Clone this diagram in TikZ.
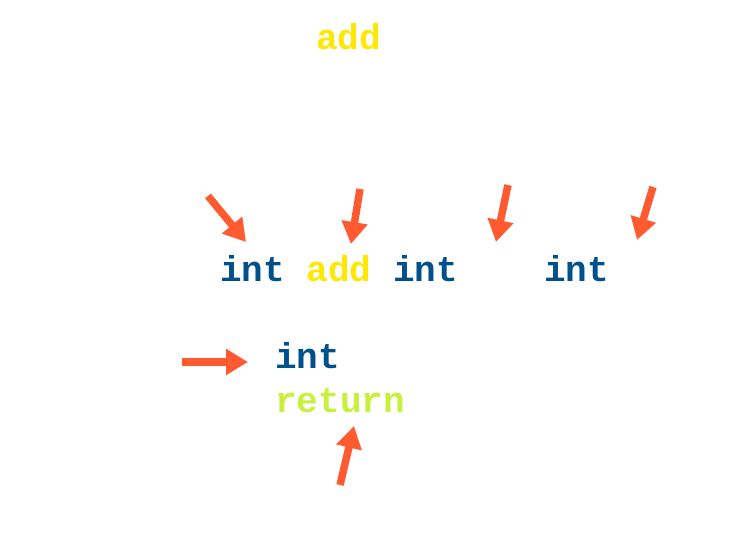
\documentclass[tikz,border=0pt]{standalone}
\usepackage{fontspec}
\setmainfont{Liberation Sans}
\setmonofont{Liberation Mono}
\usetikzlibrary{arrows.meta}
\definecolor{intblue}{RGB}{0,80,140}
\definecolor{addyellow}{RGB}{255,232,0}
\definecolor{retlime}{RGB}{200,240,60}
\definecolor{arrowred}{RGB}{255,90,48}
\newcommand{\kw}[1]{\textcolor{intblue}{#1}}
\tikzset{
  codeline/.style={anchor=base west, inner sep=0pt, text=white,
    font=\fontsize{36}{40}\selectfont\ttfamily\bfseries},
  lbl/.style={text=white, inner sep=1pt, font=\fontsize{17}{20}\selectfont},
  pointer/.style={draw=arrowred, line width=7.5pt,
    -{Triangle[width=25pt,length=22pt]}}
}
\begin{document}
\begin{tikzpicture}[x=1pt,y=-1pt]
\useasboundingbox[fill=white] (0,0) rectangle (748,544);
% title
\node[codeline] (title) at (316,49) {\textcolor{addyellow}{add} (a, b)};
% code
\node[codeline] (l1) at (220,281) {\kw{int} \textcolor{addyellow}{add}(\kw{int} a, \kw{int} b)};
\node[codeline] (l2) at (220,325) {\{};
\node[codeline] (l3) at (275,368) {\kw{int} sum = a + b;};
\node[codeline] (l4) at (275,412) {\textcolor{retlime}{return} sum;};
\node[codeline] (l5) at (220,456) {\}};
% labels
\node[lbl] (dt) at (202,166) {Datatype};
\node[lbl] (nm) at (372,185) {Name};
\node[lbl] (p1) at (520,166) {Parameter};
\node[lbl] (p2) at (665,166) {Parameter};
\node[lbl] (lv) at (90,361) {Local variable};
\node[lbl] (rv) at (344,498) {Return value};
% arrow ends
\coordinate (s1) at (208,196); \coordinate (e1) at (246,242);
\coordinate (s2) at (360,189); \coordinate (e2) at (351,244);
\coordinate (s3) at (508,185); \coordinate (e3) at (496,242);
\coordinate (s4) at (653,187); \coordinate (e4) at (637,240);
\coordinate (s5) at (182,362); \coordinate (e5) at (248,362);
\coordinate (s6) at (340,485); \coordinate (e6) at (354,426);
\draw[pointer] (s1) -- (e1);
\draw[pointer] (s2) -- (e2);
\draw[pointer] (s3) -- (e3);
\draw[pointer] (s4) -- (e4);
\draw[pointer] (s5) -- (e5);
\draw[pointer] (s6) -- (e6);
\end{tikzpicture}
\end{document}
